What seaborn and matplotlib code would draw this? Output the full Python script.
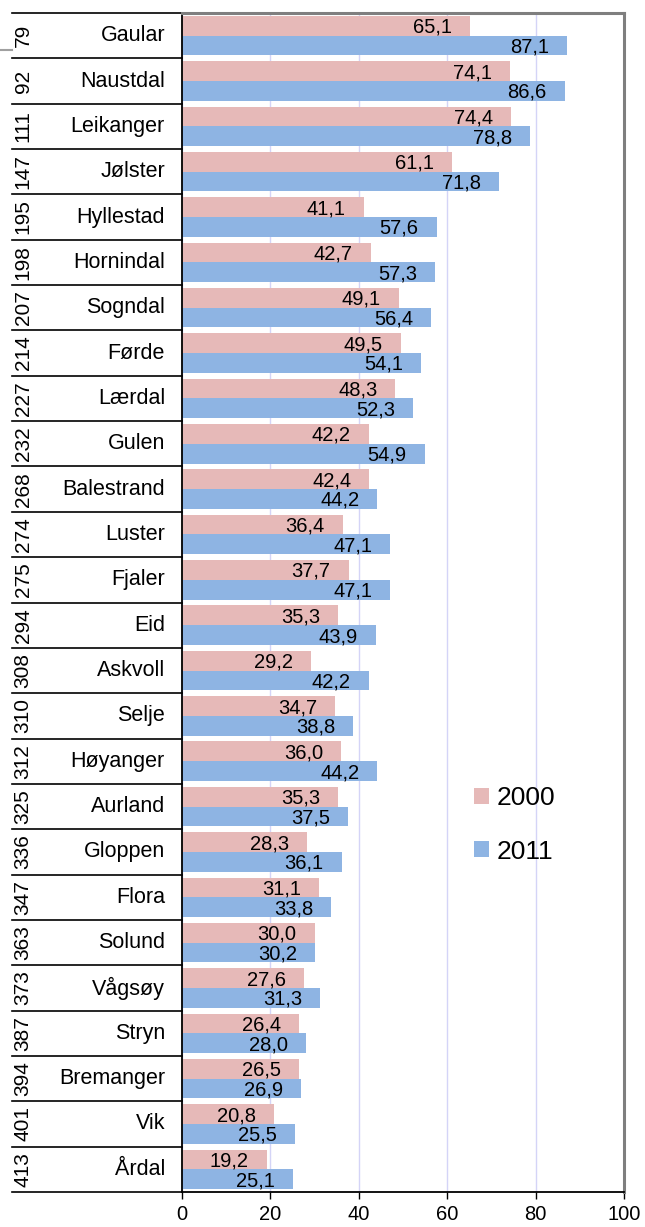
import matplotlib
matplotlib.use("Agg")
import matplotlib.pyplot as plt
import seaborn as sns
import pandas as pd
from matplotlib.lines import Line2D
from matplotlib.patches import Patch
from matplotlib.transforms import blended_transform_factory

ranks = [79, 92, 111, 147, 195, 198, 207, 214, 227, 232, 268, 274, 275, 294, 308,
         310, 312, 325, 336, 347, 363, 373, 387, 394, 401, 413]
names = ["Gaular", "Naustdal", "Leikanger", "Jølster", "Hyllestad", "Hornindal",
         "Sogndal", "Førde", "Lærdal", "Gulen", "Balestrand", "Luster", "Fjaler",
         "Eid", "Askvoll", "Selje", "Høyanger", "Aurland", "Gloppen", "Flora",
         "Solund", "Vågsøy", "Stryn", "Bremanger", "Vik", "Årdal"]
v2000 = [65.1, 74.1, 74.4, 61.1, 41.1, 42.7, 49.1, 49.5, 48.3, 42.2, 42.4, 36.4, 37.7,
         35.3, 29.2, 34.7, 36.0, 35.3, 28.3, 31.1, 30.0, 27.6, 26.4, 26.5, 20.8, 19.2]
v2011 = [87.1, 86.6, 78.8, 71.8, 57.6, 57.3, 56.4, 54.1, 52.3, 54.9, 44.2, 47.1, 47.1,
         43.9, 42.2, 38.8, 44.2, 37.5, 36.1, 33.8, 30.2, 31.3, 28.0, 26.9, 25.5, 25.1]
years = ["2000", "2011"]
xticks = [0, 20, 40, 60, 80, 100]

PINK = "#E6B9B8"
BLUE = "#8EB4E3"

df = pd.DataFrame({
    "name": names * 2,
    "value": v2000 + v2011,
    "year": [years[0]] * len(names) + [years[1]] * len(names),
})

W, H = 645, 1227
fig = plt.figure(figsize=(W / 100, H / 100), dpi=100)
plt.rcParams["font.family"] = ["Liberation Sans", "DejaVu Sans"]
ax = fig.add_axes([182 / W, 1 - 1192 / H, (624 - 182) / W, (1192 - 13) / H])

sns.barplot(data=df, x="value", y="name", hue="year", orient="h",
            palette=[PINK, BLUE], width=0.87, saturation=1, ax=ax,
            linewidth=0, legend=False, order=names, hue_order=years)

ax.set_xlim(0, 100)
ax.set_ylim(len(names) - 0.5, -0.5)
ax.set_xticks(xticks)
ax.set_xticklabels([str(t) for t in xticks], fontsize=14.5)
ax.tick_params(axis="x", direction="out", length=5, width=1, colors="black", pad=4)
ax.tick_params(axis="y", left=False, labelleft=False)
ax.set_xlabel("")
ax.set_ylabel("")
ax.grid(axis="x", color="#D4D4F7", lw=1)
ax.set_axisbelow(True)
for s in ["left", "bottom"]:
    ax.spines[s].set_color("black")
    ax.spines[s].set_linewidth(1.3)
for s in ["top", "right"]:
    ax.spines[s].set_color("#7F7F7F")
    ax.spines[s].set_linewidth(2.2)

# value labels, inside end
for cont in ax.containers:
    for rect in cont:
        w = rect.get_width()
        yc = rect.get_y() + rect.get_height() / 2
        ax.annotate(f"{w:.1f}".replace(".", ","), xy=(w, yc), xytext=(-18, -1.5),
                    textcoords="offset pixels", ha="right", va="center",
                    fontsize=14.5, color="black")

# left table
tr = blended_transform_factory(fig.transFigure, ax.transData)
for i in range(len(names) + 1):
    ax.add_line(Line2D([12 / W, 182 / W], [i - 0.5, i - 0.5], transform=tr,
                       color="black", lw=1.2, clip_on=False))
for i, (r, n) in enumerate(zip(ranks, names)):
    ax.text(165 / W, i, n, transform=tr, ha="right", va="center", fontsize=15.5)
    ax.text(23 / W, i, str(r), transform=tr, ha="center", va="center",
            rotation=90, fontsize=15)

fig.add_artist(Line2D([0, 12 / W], [1 - 50 / H, 1 - 50 / H], transform=fig.transFigure,
                      color="#A0A0A0", lw=1.5))

handles = [Patch(facecolor=PINK, edgecolor="none"), Patch(facecolor=BLUE, edgecolor="none")]
ax.legend(handles, years, loc="center left", bbox_to_anchor=(474 / W, 1 - 825 / H),
          bbox_transform=fig.transFigure, frameon=False, fontsize=19,
          handlelength=0.55, handleheight=0.55, handletextpad=0.3,
          labelspacing=1.1, borderpad=0, borderaxespad=0)

fig.savefig("out.png", dpi=100)
